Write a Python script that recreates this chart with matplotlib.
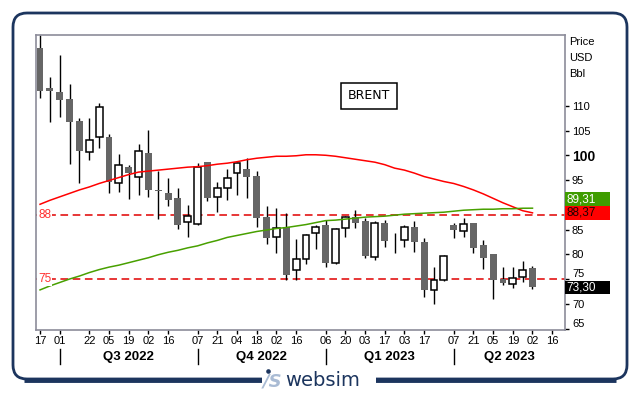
import matplotlib
matplotlib.use("Agg")
import matplotlib.pyplot as plt
import matplotlib.transforms as mtransforms
from matplotlib.patches import FancyBboxPatch, Rectangle, Circle
import numpy as np
import pandas as pd

# weekly Brent candles, first week = 17 Jun 2022
start = pd.Timestamp('2022-06-17')
opens = [121.7, 113.6, 112.8, 111.4, 106.9, 100.6, 103.6, 103.7, 94.3, 97.6,
         95.7, 100.5, 93.0, 92.3, 91.4, 86.5, 86.2, 98.6, 91.5, 93.3,
         96.4, 97.2, 95.8, 87.5, 83.4, 85.6, 76.8, 79.0, 84.2, 85.9,
         78.3, 85.3, 87.5, 86.7, 79.4, 86.3, 82.9, 82.9, 85.6, 82.5,
         72.8, 74.8, 85.9, 84.7, 86.3, 81.9, 80.1, 75.1, 74.0, 75.5, 77.2]
closes = [112.9, 112.9, 111.2, 106.8, 100.9, 103.0, 109.7, 94.7, 98.0, 96.5,
          100.8, 92.9, 92.7, 91.0, 86.0, 87.8, 97.7, 91.4, 93.3, 95.5,
          98.5, 95.7, 87.4, 83.3, 85.4, 75.9, 79.0, 83.8, 85.6, 78.3,
          85.1, 87.5, 86.4, 79.7, 86.3, 82.7, 82.8, 85.6, 82.5, 72.8,
          74.9, 79.6, 84.9, 86.1, 81.3, 79.2, 74.9, 74.1, 75.3, 76.8, 73.3]
highs = [124.2, 115.9, 120.3, 114.5, 107.5, 107.5, 110.6, 104.3, 100.3, 98.0,
         102.3, 105.2, 96.9, 95.5, 93.3, 89.9, 98.4, 98.7, 94.5, 97.2,
         98.7, 99.4, 96.8, 89.7, 89.3, 88.3, 83.1, 84.1, 85.9, 86.9,
         85.3, 87.7, 88.9, 87.3, 86.8, 86.9, 84.3, 85.9, 86.7, 83.3,
         77.4, 79.8, 86.3, 87.3, 86.3, 82.9, 80.1, 77.4, 77.4, 78.6, 77.6]
lows = [111.5, 106.8, 107.8, 98.3, 94.3, 99.1, 101.4, 92.4, 92.6, 91.2,
        92.0, 91.6, 87.1, 89.8, 85.2, 83.4, 86.0, 90.8, 88.6, 91.0,
        92.0, 91.4, 85.6, 82.1, 80.3, 74.9, 74.9, 78.0, 81.1, 77.5,
        78.0, 83.5, 85.3, 79.3, 78.9, 81.5, 80.2, 81.5, 80.5, 71.3,
        70.0, 74.6, 83.3, 83.5, 80.3, 77.0, 71.0, 73.8, 73.2, 74.3, 73.0]

# moving averages
ma_red = [90.1, 90.9, 91.6, 92.3, 93.0, 93.6, 94.3, 94.9, 95.5, 96.1,
          96.6, 96.8, 97.0, 97.2, 97.4, 97.6, 97.7, 97.9, 98.2, 98.4,
          98.7, 99.1, 99.4, 99.6, 99.8, 99.8, 99.9, 100.1, 100.1, 100.0,
          99.8, 99.5, 99.2, 98.9, 98.6, 98.1, 97.4, 97.0, 96.4, 95.7,
          95.2, 94.7, 94.3, 93.7, 93.0, 92.2, 91.3, 90.4, 89.6, 88.8, 88.37]
ma_green = [72.8, 73.6, 74.3, 75.0, 75.6, 76.3, 76.9, 77.4, 77.8, 78.3,
            78.8, 79.3, 79.9, 80.4, 80.8, 81.3, 81.7, 82.3, 82.8, 83.4,
            83.8, 84.2, 84.6, 84.9, 85.2, 85.4, 85.7, 86.0, 86.4, 86.8,
            86.9, 87.1, 87.3, 87.5, 87.6, 87.7, 87.9, 88.1, 88.2, 88.3,
            88.4, 88.5, 88.7, 88.9, 89.0, 89.1, 89.1, 89.2, 89.2, 89.3, 89.31]

levels = [88, 75]
last_close = 73.30

tick_dates = ['2022-06-17', '2022-07-01', '2022-07-22', '2022-08-05', '2022-08-19',
              '2022-09-02', '2022-09-16', '2022-10-07', '2022-10-21', '2022-11-04',
              '2022-11-18', '2022-12-02', '2022-12-16', '2023-01-06', '2023-01-20',
              '2023-02-03', '2023-02-17', '2023-03-03', '2023-03-17', '2023-04-07',
              '2023-04-21', '2023-05-05', '2023-05-19', '2023-06-02', '2023-06-16']
quarter_starts = ['2022-07-01', '2022-10-07', '2023-01-06', '2023-04-07']
quarter_labels = ['Q3 2022', 'Q4 2022', 'Q1 2023', 'Q2 2023']
yticks = [65, 70, 75, 80, 85, 90, 95, 100, 105, 110]
hidden_ylabels = [90]   # covered by the value boxes in the original


def week_pos(d):
    return (pd.to_datetime(d) - start).days / 7.0


fig = plt.figure(figsize=(6.4, 3.95), dpi=100)

# background frame
bg = fig.add_axes([0, 0, 1, 1], zorder=-1)
bg.set_xlim(0, 640)
bg.set_ylim(395, 0)
bg.axis('off')
navy = '#1c355e'
bg.add_patch(FancyBboxPatch((13, 13), 614, 366, boxstyle='round,pad=0,rounding_size=14',
                            fc='white', ec=navy, lw=2))
bg.plot([24, 616], [379.5, 379.5], color=navy, lw=3.5, solid_capstyle='butt')
bg.add_patch(Rectangle((262, 372), 114, 16, fc='white', ec='none', zorder=3))
bg.add_patch(Circle((268.5, 371.5), 2.3, fc=navy, ec='none', zorder=4))
bg.text(282, 381, '/S', ha='right', va='center', fontsize=13, fontweight='bold',
        style='italic', color='#a9bbd4', zorder=4, family='DejaVu Sans')
bg.text(285, 381, 'websim', ha='left', va='center', fontsize=14, color=navy,
        zorder=4, family='DejaVu Sans')

ax = fig.add_axes([36 / 640, 1 - 329.5 / 395, 529 / 640, 294.5 / 395])
x = np.arange(len(opens))
o = np.array(opens)
c = np.array(closes)
up = c >= o

ax.vlines(x, lows, highs, color='black', lw=1, zorder=2)
body_lo = np.minimum(o, c)
body_h = np.maximum(np.abs(c - o), 0.15)
ax.bar(x[~up], body_h[~up], bottom=body_lo[~up], width=0.7, color='#666666',
       edgecolor='none', zorder=3)
ax.bar(x[up], body_h[up], bottom=body_lo[up], width=0.7, color='white',
       edgecolor='black', lw=1.1, zorder=3)

ax.plot(x, ma_red, color='#ff0000', lw=1.1, zorder=4)
ax.plot(x, ma_green, color='#48a000', lw=1.1, zorder=4)

blend = mtransforms.blended_transform_factory(ax.transAxes, ax.transData)
for lv in levels:
    ax.axhline(lv, color='#e00000', lw=1.1, dashes=(5, 3), zorder=1)
    ax.text(0.004, lv, str(lv), transform=blend, ha='left', va='center',
            fontsize=8.5, color='#ff3030', family='Liberation Sans',
            bbox=dict(fc='white', ec='none', pad=0.5), zorder=5)

ax.set_xlim(-0.41, 53.3)
ax.set_ylim(64.8, 124.3)

# right axis
ax.yaxis.tick_right()
ax.set_yticks(yticks)
ax.set_yticklabels(['' if v in hidden_ylabels else str(v) for v in yticks])
ax.tick_params(axis='y', length=3, width=1, pad=2, labelsize=8, colors='black')
for t in ax.get_yticklabels():
    t.set_family('Liberation Sans')
    if t.get_text() == '100':
        t.set_fontweight('bold')
        t.set_fontsize(10)
    if t.get_text() in ('65', '75'):
        t.set_va('bottom')

ax.set_xticks([week_pos(d) for d in tick_dates])
ax.set_xticklabels([pd.to_datetime(d).strftime('%d') for d in tick_dates])
ax.tick_params(axis='x', length=3, width=1, pad=1.5, labelsize=8, colors='black')
for t in ax.get_xticklabels():
    t.set_family('Liberation Sans')

for sp in ax.spines.values():
    sp.set_color('#8c8c9a')
    sp.set_linewidth(1.2)

for t, yy in zip(['Price', 'USD', 'Bbl'], [0.976, 0.922, 0.868]):
    ax.text(1.007, yy, t, transform=ax.transAxes, ha='left', va='center',
            fontsize=8, family='Liberation Sans')

# value boxes on right
box_h = 2.75
box_w = 45 / 529
red_val, green_val = ma_red[-1], ma_green[-1]
red_bot = red_val - box_h / 2
green_bot = green_val - box_h / 2
if abs(green_bot - red_bot) < box_h:
    green_bot = red_bot + box_h
boxes = [(green_bot, green_val, '#3f9c00', 'white'),
         (red_bot, red_val, '#ff0000', '#220000'),
         (last_close - box_h / 2, last_close, 'black', 'white')]
for bot, val, fc, tc in boxes:
    ax.add_patch(Rectangle((1.0, bot), box_w, box_h, transform=blend, fc=fc,
                           ec='none', clip_on=False, zorder=6))
    ax.text(1.003, bot + box_h / 2, f'{val:.2f}'.replace('.', ','), transform=blend,
            ha='left', va='center', fontsize=8.5, color=tc, family='Liberation Sans',
            zorder=7, clip_on=False)

# quarter separators and labels
xblend = mtransforms.blended_transform_factory(ax.transData, ax.transAxes)
qpos = [week_pos(d) for d in quarter_starts]
for q in qpos:
    ax.plot([q, q], [-0.066, -0.117], transform=xblend, color='black', lw=1,
            clip_on=False)
edges = qpos + [ax.get_xlim()[1]]
for i, lab in enumerate(quarter_labels):
    ax.text((edges[i] + edges[i + 1]) / 2, -0.092, lab, transform=xblend,
            ha='center', va='center', fontsize=9.5, fontweight='bold',
            family='Liberation Sans')

ax.text(0.629, 0.793, 'BRENT', transform=ax.transAxes, ha='center', va='center',
        fontsize=9, family='DejaVu Sans',
        bbox=dict(boxstyle='square,pad=0.55', fc='white', ec='black', lw=1.1))

fig.savefig('out.png', dpi=100)
